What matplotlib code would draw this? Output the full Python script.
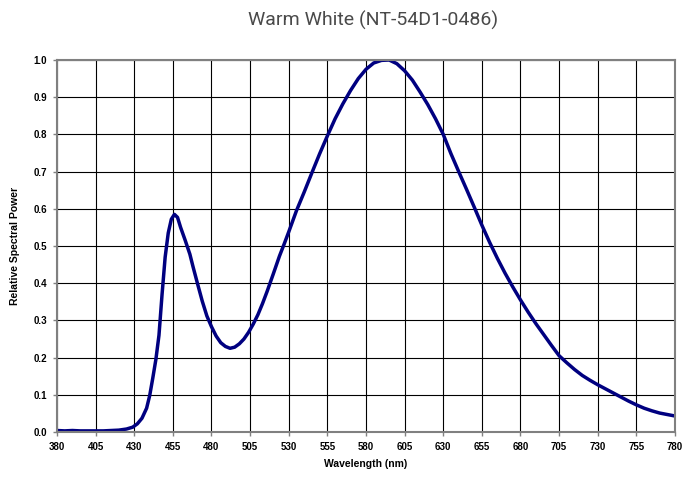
import matplotlib
matplotlib.use("Agg")
import matplotlib.pyplot as plt
from matplotlib import font_manager

wavelength = [380, 385, 390, 395, 400, 405, 410, 415, 420, 425, 429, 432, 435, 438,
              440, 442, 444, 446, 448, 450, 452, 454, 456, 458, 460, 463, 466, 468,
              471, 474, 477, 480, 483, 486, 489, 492, 495, 498, 501, 504, 507, 510,
              513, 516, 520, 524, 527, 530, 535, 540, 545, 550, 555, 560, 565, 570,
              575, 580, 585, 590, 595, 600, 605, 610, 615, 620, 625, 630, 635, 640,
              645, 650, 655, 660, 665, 670, 675, 680, 685, 690, 695, 700, 705, 710,
              715, 720, 725, 730, 735, 740, 745, 750, 755, 760, 765, 770, 775, 780]
power = [0.004, 0.003, 0.004, 0.003, 0.003, 0.003, 0.003, 0.004, 0.005, 0.008, 0.013,
         0.022, 0.037, 0.064, 0.098, 0.145, 0.195, 0.26, 0.37, 0.47, 0.535, 0.572,
         0.585, 0.577, 0.55, 0.515, 0.478, 0.445, 0.398, 0.352, 0.312, 0.283, 0.258,
         0.24, 0.23, 0.225, 0.228, 0.237, 0.25, 0.268, 0.29, 0.315, 0.345, 0.378,
         0.425, 0.473, 0.505, 0.538, 0.595, 0.645, 0.697, 0.748, 0.796, 0.842,
         0.882, 0.918, 0.950, 0.975, 0.992, 0.999, 1.0, 0.99, 0.971, 0.946, 0.914,
         0.88, 0.842, 0.80, 0.748, 0.70, 0.653, 0.605, 0.556, 0.51, 0.467, 0.427,
         0.39, 0.355, 0.322, 0.291, 0.262, 0.233, 0.205, 0.186, 0.168, 0.152, 0.139,
         0.127, 0.116, 0.105, 0.094, 0.083, 0.073, 0.064, 0.057, 0.051, 0.047, 0.043]

x_ticks = list(range(380, 781, 25))
y_ticks = [i / 10 for i in range(0, 11)]

names = {f.name for f in font_manager.fontManager.ttflist}
if "Liberation Sans Narrow" in names:
    title_font = "Liberation Sans Narrow"
elif "Roboto" in names:
    title_font = "Roboto"
else:
    title_font = "Liberation Sans"
base_font = "Liberation Sans"

fig = plt.figure(figsize=(6.83, 4.80), dpi=100)
ax = fig.add_axes([57 / 683, 48 / 480, (675 - 57) / 683, (432 - 60) / 480])

ax.plot(wavelength, power, color="#000080", linewidth=2.5, solid_capstyle="round",
        solid_joinstyle="round")

ax.set_xlim(380, 780)
ax.set_ylim(0, 1.0)
ax.set_xticks(x_ticks)
ax.set_yticks(y_ticks)
ax.set_xticklabels([str(v) for v in x_ticks], fontfamily=base_font, fontweight="bold", fontsize=7)
ax.set_yticklabels([f"{v:.1f}" for v in y_ticks], fontfamily=base_font, fontweight="bold", fontsize=7)
ax.tick_params(direction="out", length=3, width=1, color="#808080", pad=4)

ax.grid(True, color="black", linewidth=0.8)
ax.set_axisbelow(True)
for s in ax.spines.values():
    s.set_color("#808080")
    s.set_linewidth(1.5)

ax.set_xlabel("Wavelength (nm)", fontfamily=base_font, fontweight="bold", fontsize=7.5, labelpad=5)
ax.set_ylabel("Relative Spectral Power", fontfamily=base_font, fontweight="bold", fontsize=7.5, labelpad=10)

fig.text(373 / 683, 1 - 20 / 480, "Warm White (NT-54D1-0486)", ha="center", va="center",
         fontfamily=title_font, fontsize=14, color="#4a4a4a")

fig.savefig("out.png", dpi=100)
